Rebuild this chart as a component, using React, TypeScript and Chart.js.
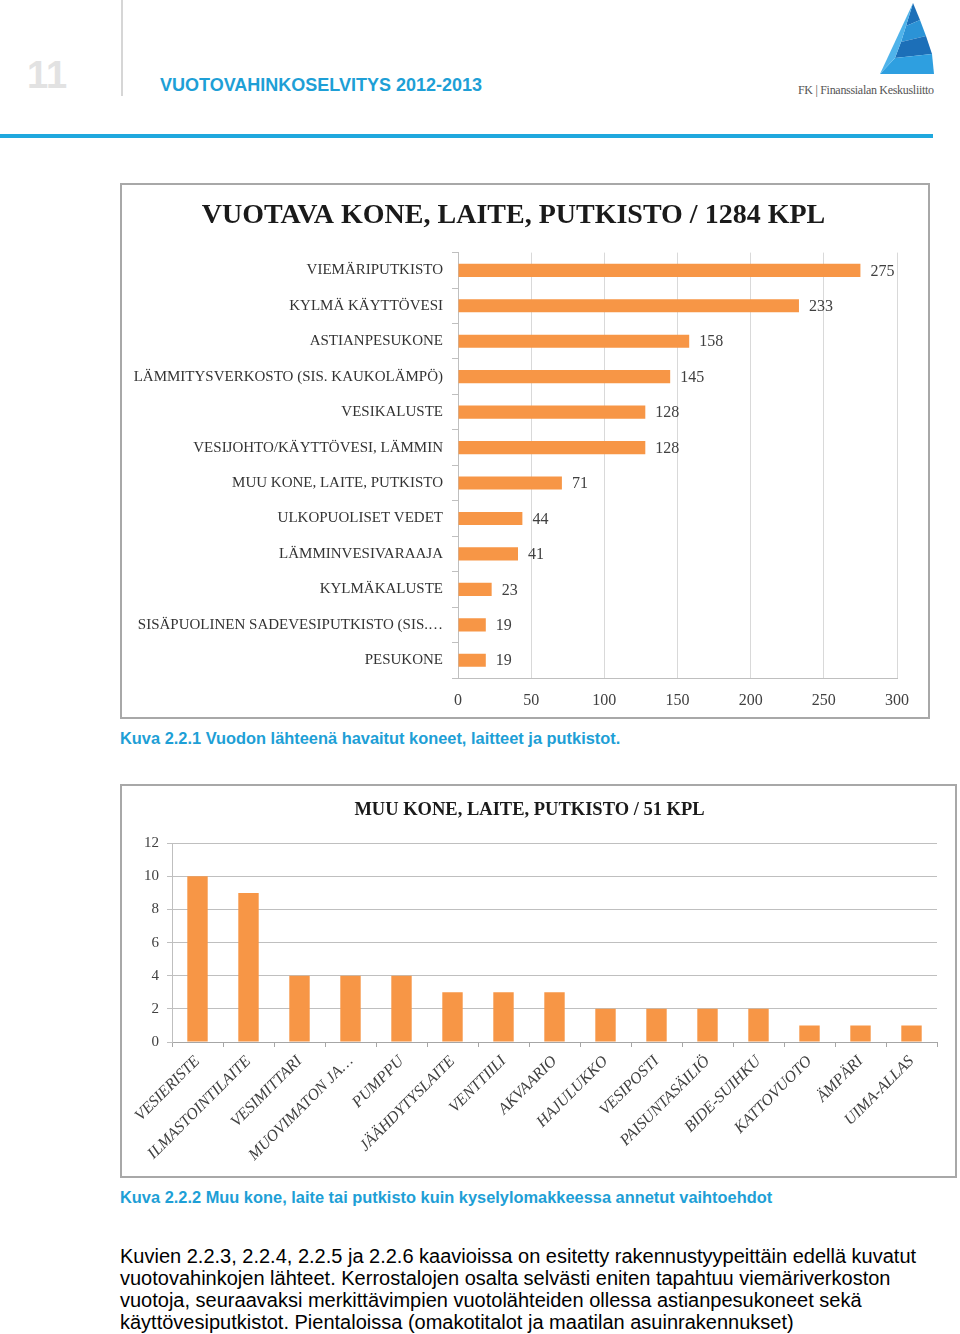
import React, { useEffect, useRef } from "react";
import { Chart, registerables } from "chart.js";

Chart.register(...registerables);

// ---------- data ----------
const leakCategories = [
  "VIEMÄRIPUTKISTO",
  "KYLMÄ KÄYTTÖVESI",
  "ASTIANPESUKONE",
  "LÄMMITYSVERKOSTO (SIS. KAUKOLÄMPÖ)",
  "VESIKALUSTE",
  "VESIJOHTO/KÄYTTÖVESI, LÄMMIN",
  "MUU KONE, LAITE, PUTKISTO",
  "ULKOPUOLISET VEDET",
  "LÄMMINVESIVARAAJA",
  "KYLMÄKALUSTE",
  "SISÄPUOLINEN SADEVESIPUTKISTO (SIS.…",
  "PESUKONE",
];
const leakValues = [275, 233, 158, 145, 128, 128, 71, 44, 41, 23, 19, 19];
const leakTitle = "VUOTAVA KONE, LAITE, PUTKISTO / 1284 KPL";

const otherCategories = [
  "VESIERISTE",
  "ILMASTOINTILAITE",
  "VESIMITTARI",
  "MUOVIMATON JA…",
  "PUMPPU",
  "JÄÄHDYTYSLAITE",
  "VENTTIILI",
  "AKVAARIO",
  "HAJULUKKO",
  "VESIPOSTI",
  "PAISUNTASÄILIÖ",
  "BIDE-SUIHKU",
  "KATTOVUOTO",
  "ÄMPÄRI",
  "UIMA-ALLAS",
];
const otherValues = [10, 9, 4, 4, 4, 3, 3, 3, 2, 2, 2, 2, 1, 1, 1];
const otherTitle = "MUU KONE, LAITE, PUTKISTO / 51 KPL";

const ORANGE = "#f79646";
const BLUE = "#1e9fd6";
const SERIF = "'Liberation Serif', 'DejaVu Serif', serif";
const SANS = "'Liberation Sans', Arial, sans-serif";
const NARROW = "'Liberation Sans Narrow', 'Liberation Sans', Arial, sans-serif";

const barValuesPlugin = {
  id: "barValues",
  afterDatasetsDraw(chart: any, _args: any, opts: any) {
    if (!opts || !opts.enabled) return;
    const ctx = chart.ctx;
    const meta = chart.getDatasetMeta(0);
    ctx.save();
    ctx.font = opts.font;
    ctx.fillStyle = opts.color;
    ctx.textBaseline = "middle";
    ctx.textAlign = "left";
    meta.data.forEach((bar: any, i: number) => {
      const v = chart.data.datasets[0].data[i];
      ctx.fillText(String(v), bar.x + opts.offset, bar.y + 1);
    });
    ctx.restore();
  },
};

function LeakChart() {
  const ref = useRef<HTMLCanvasElement | null>(null);
  useEffect(() => {
    if (!ref.current) return;
    const chart = new Chart(ref.current, {
      type: "bar",
      data: {
        labels: leakCategories,
        datasets: [
          {
            data: leakValues,
            backgroundColor: ORANGE,
            barPercentage: 0.37,
            categoryPercentage: 1,
          },
        ],
      },
      plugins: [barValuesPlugin],
      options: {
        indexAxis: "y",
        responsive: false,
        animation: false,
        layout: { padding: { left: 8, right: 31, top: 0, bottom: 0 } },
        plugins: {
          legend: { display: false },
          tooltip: { enabled: false },
          title: {
            display: true,
            text: leakTitle,
            color: "#1a1a1a",
            font: { family: SERIF, size: 28, weight: "bold" },
            padding: { top: 14, bottom: 20 },
          },
          barValues: {
            enabled: true,
            font: `16px ${SERIF}`,
            color: "#404040",
            offset: 10,
          },
        } as any,
        scales: {
          x: {
            min: 0,
            max: 300,
            ticks: {
              stepSize: 50,
              color: "#404040",
              font: { family: SERIF, size: 16 },
              padding: 13,
            },
            grid: { color: "#d9d9d9", drawTicks: false },
            border: { color: "#bfbfbf" },
            afterFit: (s: any) => {
              s.height = 39;
            },
          },
          y: {
            ticks: {
              color: "#333333",
              font: { family: SERIF, size: 15 },
              padding: 9,
              autoSkip: false,
            },
            grid: {
              drawOnChartArea: false,
              drawTicks: true,
              tickLength: 6,
              color: "#bfbfbf",
            },
            border: { color: "#bfbfbf" },
            afterFit: (s: any) => {
              s.width = 328;
            },
          },
        },
      } as any,
    });
    return () => chart.destroy();
  }, []);
  return <canvas ref={ref} width={806} height={532} style={{ display: "block" }} />;
}

function OtherChart() {
  const ref = useRef<HTMLCanvasElement | null>(null);
  useEffect(() => {
    if (!ref.current) return;
    const chart = new Chart(ref.current, {
      type: "bar",
      data: {
        labels: otherCategories,
        datasets: [
          {
            data: otherValues,
            backgroundColor: ORANGE,
            barPercentage: 0.4,
            categoryPercentage: 1,
          },
        ],
      },
      options: {
        responsive: false,
        animation: false,
        layout: { padding: { left: 0, right: 18, top: 0, bottom: 0 } },
        plugins: {
          legend: { display: false },
          tooltip: { enabled: false },
          title: {
            display: true,
            text: otherTitle,
            color: "#1a1a1a",
            font: { family: SERIF, size: 18.5, weight: "bold" },
            padding: { top: 13, bottom: 22 },
          },
        },
        scales: {
          x: {
            ticks: {
              color: "#404040",
              font: { family: SERIF, size: 16, style: "italic" },
              maxRotation: 45,
              minRotation: 45,
              autoSkip: false,
              padding: 5,
            },
            grid: {
              drawOnChartArea: false,
              drawTicks: true,
              tickLength: 5,
              color: "#a6a6a6",
            },
            border: { color: "#a6a6a6" },
            afterFit: (s: any) => {
              s.height = 134;
            },
          },
          y: {
            min: 0,
            max: 12,
            ticks: {
              stepSize: 2,
              color: "#404040",
              font: { family: SERIF, size: 15 },
              padding: 8,
            },
            grid: { color: "#bfbfbf", tickLength: 5 },
            border: { color: "#bfbfbf" },
            afterFit: (s: any) => {
              s.width = 50;
            },
          },
        },
      } as any,
    });
    return () => chart.destroy();
  }, []);
  return <canvas ref={ref} width={833} height={390} style={{ display: "block" }} />;
}

function Logo() {
  return (
    <svg
      width={60}
      height={76}
      viewBox="0 0 60 76"
      style={{ position: "absolute", left: 876, top: 0 }}
    >
      <polygon points="37,3 30,26 44,20" fill="#1c6fb8" />
      <polygon points="30,26 25,42 50,36 44,20" fill="#2b93d6" />
      <polygon points="25,42 19,58 56,54 50,36" fill="#1c6fb8" />
      <polygon points="19,58 4,74 58,74 56,54" fill="#2e9fe0" />
      <polygon points="37,3 4,74 19,58 25,42 30,26" fill="#4fb3ea" />
    </svg>
  );
}

export default function App() {
  return (
    <div
      style={{
        position: "absolute",
        left: 0,
        top: 0,
        width: 960,
        height: 1334,
        background: "#fff",
        overflow: "hidden",
      }}
    >
      {/* header */}
      <div
        style={{
          position: "absolute",
          left: 27,
          top: 53,
          fontFamily: SANS,
          fontWeight: "bold",
          fontSize: 38,
          lineHeight: "44px",
          color: "#e2e2e2",
        }}
      >
        11
      </div>
      <div
        style={{
          position: "absolute",
          left: 121,
          top: 0,
          width: 2,
          height: 96,
          background: "#d6d6d6",
        }}
      />
      <div
        style={{
          position: "absolute",
          left: 160,
          top: 74,
          fontFamily: NARROW,
          fontWeight: "bold",
          fontSize: 18,
          lineHeight: "22px",
          color: BLUE,
          whiteSpace: "nowrap",
        }}
      >
        VUOTOVAHINKOSELVITYS 2012-2013
      </div>
      <Logo />
      <div
        style={{
          position: "absolute",
          left: 798,
          top: 83,
          fontFamily: "'Liberation Serif', serif",
          fontSize: 12,
          lineHeight: "14px",
          color: "#555",
          whiteSpace: "nowrap",
          letterSpacing: "-0.3px",
        }}
      >
        FK | Finanssialan Keskusliitto
      </div>
      <div
        style={{
          position: "absolute",
          left: 0,
          top: 134,
          width: 933,
          height: 4,
          background: "#1fa8de",
        }}
      />

      {/* chart 1 */}
      <div
        style={{
          position: "absolute",
          left: 120,
          top: 183,
          width: 810,
          height: 536,
          boxSizing: "border-box",
          border: "2px solid #a8a8a8",
        }}
      >
        <LeakChart />
      </div>
      <div
        style={{
          position: "absolute",
          left: 120,
          top: 728,
          fontFamily: SANS,
          fontWeight: "bold",
          fontSize: 16.4,
          lineHeight: "20px",
          color: BLUE,
          whiteSpace: "nowrap",
        }}
      >
        Kuva 2.2.1 Vuodon lähteenä havaitut koneet, laitteet ja putkistot.
      </div>

      {/* chart 2 */}
      <div
        style={{
          position: "absolute",
          left: 120,
          top: 784,
          width: 837,
          height: 394,
          boxSizing: "border-box",
          border: "2px solid #a8a8a8",
        }}
      >
        <OtherChart />
      </div>
      <div
        style={{
          position: "absolute",
          left: 120,
          top: 1187,
          fontFamily: SANS,
          fontWeight: "bold",
          fontSize: 16.4,
          lineHeight: "20px",
          color: BLUE,
          whiteSpace: "nowrap",
        }}
      >
        Kuva 2.2.2 Muu kone, laite tai putkisto kuin kyselylomakkeessa annetut vaihtoehdot
      </div>

      {/* body text */}
      <div
        style={{
          position: "absolute",
          left: 120,
          top: 1245,
          fontFamily: SANS,
          fontSize: 20,
          lineHeight: "22px",
          color: "#000",
          whiteSpace: "nowrap",
        }}
      >
        Kuvien 2.2.3, 2.2.4, 2.2.5 ja 2.2.6 kaavioissa on esitetty rakennustyypeittäin edellä kuvatut
        <br />
        vuotovahinkojen lähteet. Kerrostalojen osalta selvästi eniten tapahtuu viemäriverkoston
        <br />
        vuotoja, seuraavaksi merkittävimpien vuotolähteiden ollessa astianpesukoneet sekä
        <br />
        käyttövesiputkistot. Pientaloissa (omakotitalot ja maatilan asuinrakennukset)
      </div>
    </div>
  );
}
